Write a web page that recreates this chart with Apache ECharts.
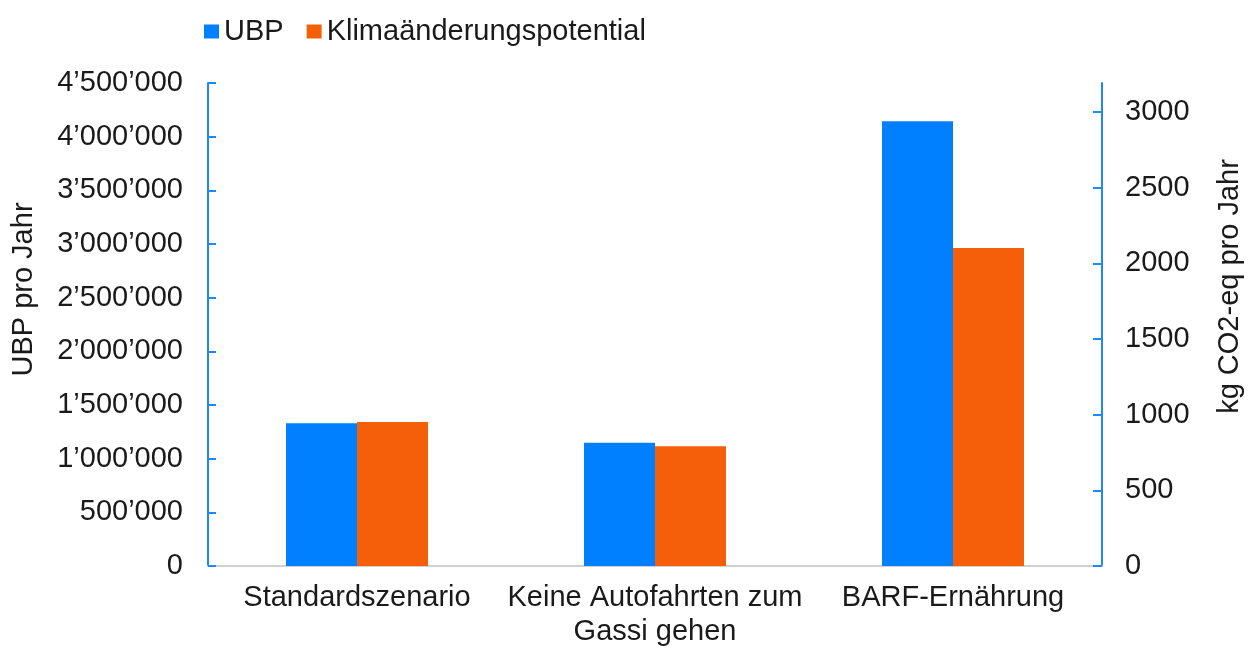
<!DOCTYPE html>
<html>
<head>
<meta charset="utf-8">
<script src="https://cdn.jsdelivr.net/npm/echarts@6/dist/echarts.min.js"></script>
<style>
  html, body { margin: 0; padding: 0; background: #fff; }
  #chart { width: 1254px; height: 648px; }
</style>
</head>
<body>
<div id="chart"></div>
<script>
// Daten
var categories = ['Standardszenario', 'Keine Autofahrten zum\nGassi gehen', 'BARF-Ernährung'];
var ubpValues = [1330000, 1149000, 4143000];     // UBP pro Jahr (linke Achse)
var klimaValues = [952, 791, 2102];              // kg CO2-eq pro Jahr (rechte Achse)
var rightTicks = [0, 500, 1000, 1500, 2000, 2500, 3000];

var blue = '#0080FF';
var orange = '#F55F0A';
var axisBlue = '#1E88F7';
var textColor = '#1a1a1a';
var fontFam = 'Liberation Sans, Arial, sans-serif';

// Tausender mit Apostroph
function swissFormat(v) {
  return String(v).replace(/\B(?=(\d{3})+(?!\d))/g, '\u2019');
}

var myChart = echarts.init(document.getElementById('chart'));

var option = {
  animation: false,
  textStyle: { fontFamily: fontFam },
  legend: {
    left: 199,
    top: 12,
    itemWidth: 15,
    itemHeight: 14,
    itemGap: 23,
    icon: 'rect',
    textStyle: { fontSize: 29, color: textColor, fontFamily: fontFam },
    data: ['UBP', 'Klimaänderungspotential']
  },
  grid: { left: 208, right: 152, top: 83, bottom: 82, containLabel: false, outerBoundsMode: 'none' },
  xAxis: {
    type: 'category',
    data: categories,
    axisLine: { lineStyle: { color: '#d0d0d0', width: 2 } },
    axisTick: { show: false },
    axisLabel: {
      fontSize: 29, color: textColor, margin: 15, lineHeight: 34,
      fontFamily: fontFam, interval: 0
    }
  },
  yAxis: [
    {
      type: 'value',
      min: 0,
      max: 4500000,
      interval: 500000,
      name: 'UBP pro Jahr',
      nameLocation: 'middle',
      nameGap: 170,
      nameTextStyle: { fontSize: 29, color: textColor, fontFamily: fontFam, padding: [0, 0, 0, 70] },
      axisLine: { show: true, lineStyle: { color: axisBlue, width: 2 } },
      axisTick: { show: true, inside: true, length: 8, lineStyle: { color: axisBlue, width: 2 } },
      axisLabel: { fontSize: 29, color: textColor, margin: 25, formatter: swissFormat, fontFamily: fontFam },
      splitLine: { show: false }
    },
    {
      type: 'value',
      min: 0,
      max: 3192,
      interval: 500,
      name: 'kg CO2-eq pro Jahr',
      nameLocation: 'middle',
      nameGap: 113,
      nameTextStyle: { fontSize: 29, color: textColor, fontFamily: fontFam, padding: [0, 0, 0, 76] },
      axisLine: { show: true, lineStyle: { color: axisBlue, width: 2 } },
      axisTick: { show: true, inside: true, length: 9, customValues: rightTicks, lineStyle: { color: axisBlue, width: 2 } },
      axisLabel: {
        fontSize: 29, color: textColor, margin: 23, customValues: rightTicks, fontFamily: fontFam,
        formatter: function (v) { return String(v); }
      },
      splitLine: { show: false }
    }
  ],
  series: [
    {
      name: 'UBP',
      type: 'bar',
      yAxisIndex: 0,
      data: ubpValues,
      barWidth: 71,
      barGap: '0%',
      itemStyle: { color: blue }
    },
    {
      name: 'Klimaänderungspotential',
      type: 'bar',
      yAxisIndex: 1,
      data: klimaValues,
      barWidth: 71,
      barGap: '0%',
      itemStyle: { color: orange }
    }
  ]
};

myChart.setOption(option);
</script>
</body>
</html>
